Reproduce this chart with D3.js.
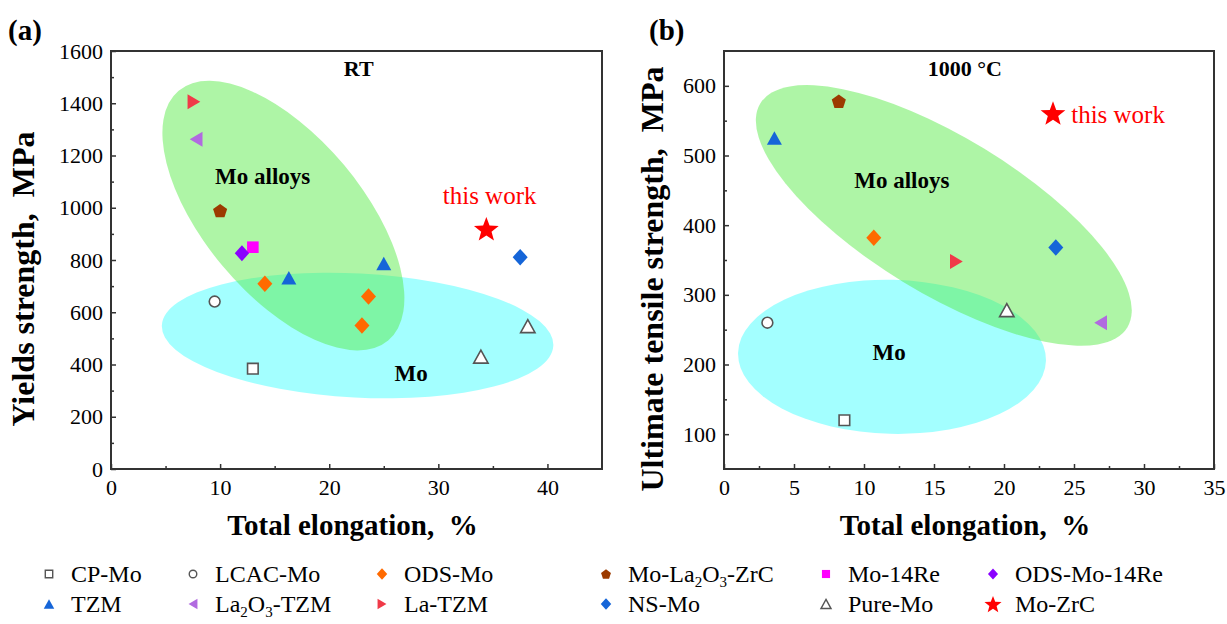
<!DOCTYPE html>
<html>
<head>
<meta charset="utf-8">
<script src="https://cdn.jsdelivr.net/npm/d3@7"></script>
<style>
  body { margin: 0; background: #fff; }
  svg text, svg tspan { font-family: "Liberation Serif", "Times New Roman", serif !important; fill: #000; }
</style>
</head>
<body>
<div id="chart"></div>
<script>
// series (legend order)
const seriesNames = ["CP-Mo", "LCAC-Mo", "ODS-Mo", "Mo-La2O3-ZrC", "Mo-14Re", "ODS-Mo-14Re",
                     "TZM", "La2O3-TZM", "La-TZM", "NS-Mo", "Pure-Mo", "Mo-ZrC"];

// (a) room temperature: yield strength vs total elongation
const rtSeries     = ["CP-Mo", "LCAC-Mo", "ODS-Mo", "ODS-Mo", "ODS-Mo", "Mo-La2O3-ZrC", "Mo-14Re",
                      "ODS-Mo-14Re", "TZM", "TZM", "La2O3-TZM", "La-TZM", "NS-Mo", "Pure-Mo", "Pure-Mo", "Mo-ZrC"];
const rtElongation = [13.0, 9.5, 14.1, 23.6, 23.0, 10.0, 13.0, 12.0, 16.3, 25.0, 7.8, 7.6, 37.5, 33.9, 38.2, 34.4];
const rtYield      = [384, 641, 709, 660, 549, 989, 849, 826, 732, 787, 1262, 1406, 811, 430, 547, 920];

// (b) 1000 °C: ultimate tensile strength vs total elongation
const hotSeries     = ["CP-Mo", "LCAC-Mo", "ODS-Mo", "Mo-La2O3-ZrC", "TZM", "La2O3-TZM", "La-TZM", "NS-Mo", "Pure-Mo", "Mo-ZrC"];
const hotElongation = [8.6, 3.1, 10.7, 8.2, 3.6, 26.9, 16.6, 23.7, 20.2, 23.5];
const hotUTS        = [120, 260, 382, 578, 525, 260, 348, 368, 278, 561];

const rtXTicks = [0, 10, 20, 30, 40];
const rtYTicks = [0, 200, 400, 600, 800, 1000, 1200, 1400, 1600];
const hotXTicks = [0, 5, 10, 15, 20, 25, 30, 35];
const hotYTicks = [100, 200, 300, 400, 500, 600];

// marker styles
const styles = {
  "CP-Mo":        {shape: "square",   r: 5.3, color: "#555", open: true},
  "LCAC-Mo":      {shape: "circle",   r: 5.4, color: "#555", open: true},
  "ODS-Mo":       {shape: "diamond",  r: 7.5, color: "#ff6a00"},
  "Mo-La2O3-ZrC": {shape: "pentagon", r: 7.4, color: "#9c3a00"},
  "Mo-14Re":      {shape: "square",   r: 5.8, color: "#ff00ff"},
  "ODS-Mo-14Re":  {shape: "diamond",  r: 7.2, color: "#8a00ff"},
  "TZM":          {shape: "triUp",    r: 7.5, color: "#1565d8"},
  "La2O3-TZM":    {shape: "triLeft",  r: 7.5, color: "#b16ae0"},
  "La-TZM":       {shape: "triRight", r: 7.5, color: "#f03a48"},
  "NS-Mo":        {shape: "diamond",  r: 7.5, color: "#1565d8"},
  "Pure-Mo":      {shape: "triUp",    r: 7.2, color: "#555", open: true},
  "Mo-ZrC":       {shape: "star",     r: 13,  color: "#ff0000"}
};

const serif = '"Liberation Serif", "Times New Roman", serif';

function shapePath(shape, r) {
  switch (shape) {
    case "square": return `M${-r},${-r}H${r}V${r}H${-r}Z`;
    case "circle": return `M${r},0A${r},${r} 0 1,1 ${-r},0A${r},${r} 0 1,1 ${r},0Z`;
    case "diamond": return `M0,${-r * 1.1}L${r},0L0,${r * 1.1}L${-r},0Z`;
    case "triUp": return `M0,${-r * 0.9}L${r},${r * 0.9}L${-r},${r * 0.9}Z`;
    case "triLeft": return `M${-r * 0.85},0L${r * 0.85},${-r}L${r * 0.85},${r}Z`;
    case "triRight": return `M${r * 0.85},0L${-r * 0.85},${-r}L${-r * 0.85},${r}Z`;
    case "pentagon":
      return "M" + d3.range(5).map(k => {
        const a = (-90 + 72 * k) * Math.PI / 180;
        return [r * Math.cos(a), r * Math.sin(a) + r * 0.1];
      }).join("L") + "Z";
    case "star":
      return "M" + d3.range(10).map(k => {
        const a = (-90 + 36 * k) * Math.PI / 180, rr = k % 2 ? r * 0.42 : r;
        return [rr * Math.cos(a), rr * Math.sin(a) + r * 0.1];
      }).join("L") + "Z";
  }
}

const svg = d3.select("#chart").append("svg")
  .attr("width", 1227).attr("height", 624)
  .style("background", "#fff")
  .style("font-family", serif);

// text with La2O3-style subscripts
function richText(sel, str) {
  let shifted = false;
  str.split(/(?<=[A-Za-z])(\d)/).forEach(part => {
    if (!part) return;
    if (/^\d$/.test(part) && !shifted && sel.text() !== "" ) {}
    const isSub = /^\d$/.test(part) && /[A-Za-z]$/.test(sel.text());
    if (isSub) {
      sel.append("tspan").attr("dy", shifted ? 0 : 5).style("font-size", "15px").text(part);
      shifted = true;
    } else {
      sel.append("tspan").attr("dy", shifted ? -5 : 0).text(part);
      shifted = false;
    }
  });
}

function panel(opt) {
  const x = d3.scaleLinear().domain(opt.xDomain).range([opt.left, opt.right]);
  const y = d3.scaleLinear().domain(opt.yDomain).range([opt.bottom, opt.top]);
  const g = svg.append("g");

  // shaded zones
  opt.zones.forEach(z => {
    g.append("ellipse")
      .attr("cx", 0).attr("cy", 0).attr("rx", z.rx).attr("ry", z.ry)
      .attr("transform", `translate(${x(z.cx)},${y(z.cy)}) rotate(${z.angle})`)
      .attr("fill", z.fill).attr("fill-opacity", z.opacity);
  });

  // axes with inward ticks
  const xAxis = g.append("g").attr("transform", `translate(0,${opt.bottom})`)
    .call(d3.axisBottom(x).tickValues(opt.xTicks).tickFormat(d3.format("d"))
      .tickSizeInner(-5).tickSizeOuter(0).tickPadding(10));
  g.append("g").attr("transform", `translate(0,${opt.bottom})`)
    .call(d3.axisBottom(x).tickValues(opt.xMinor).tickSizeInner(-3).tickSizeOuter(0).tickFormat(""));
  const yAxis = g.append("g").attr("transform", `translate(${opt.left},0)`)
    .call(d3.axisLeft(y).tickValues(opt.yTicks).tickFormat(d3.format("d"))
      .tickSizeInner(-5).tickSizeOuter(0).tickPadding(opt.yPad));
  g.append("g").attr("transform", `translate(${opt.left},0)`)
    .call(d3.axisLeft(y).tickValues(opt.yMinor).tickSizeInner(-3).tickSizeOuter(0).tickFormat(""));
  g.selectAll(".domain").remove();
  g.selectAll(".tick line").attr("stroke", "#333").attr("stroke-width", 1.5);
  g.selectAll("g").attr("font-family", null);
  xAxis.selectAll("text").style("font-size", "22px").style("font-family", serif).attr("dy", "0.71em");
  yAxis.selectAll("text").style("font-size", "22px").style("font-family", serif);

  g.append("rect")
    .attr("x", opt.left).attr("y", opt.top)
    .attr("width", opt.right - opt.left).attr("height", opt.bottom - opt.top)
    .attr("fill", "none").attr("stroke", "#333").attr("stroke-width", 2);

  // points
  g.selectAll(".pt").data(opt.series.map((s, i) => ({s, x: opt.xs[i], y: opt.ys[i]})))
    .enter().append("path")
    .attr("class", "pt")
    .attr("transform", d => `translate(${x(d.x)},${y(d.y)})`)
    .attr("d", d => shapePath(styles[d.s].shape, styles[d.s].r))
    .attr("fill", d => styles[d.s].open ? "#fff" : styles[d.s].color)
    .attr("stroke", d => styles[d.s].open ? styles[d.s].color : "none")
    .attr("stroke-width", 1.6);

  // annotations
  opt.notes.forEach(n => {
    g.append("text")
      .attr("x", x(n.x)).attr("y", y(n.y))
      .attr("text-anchor", n.anchor || "middle")
      .style("font-size", n.size + "px")
      .style("font-weight", n.bold ? "bold" : "normal")
      .style("fill", n.color || "#000")
      .text(n.text);
  });

  // axis titles
  g.append("text")
    .attr("x", (opt.left + opt.right) / 2 - 4).attr("y", 535)
    .attr("text-anchor", "middle")
    .style("font-size", "29px").style("font-weight", "bold")
    .attr("xml:space", "preserve")
    .text("Total elongation,  %");
  g.append("text")
    .attr("transform", `translate(${opt.yTitleX},${opt.yTitleY}) rotate(-90)`)
    .attr("text-anchor", "middle")
    .style("font-size", "32px").style("font-weight", "bold")
    .attr("xml:space", "preserve")
    .text(opt.yTitle);

  g.append("text")
    .attr("x", opt.tagX).attr("y", 40)
    .style("font-size", "29px").style("font-weight", "bold")
    .text(opt.tag);
}

panel({
  left: 111, right: 602, top: 51, bottom: 469,
  xDomain: [0, 45], yDomain: [0, 1600],
  xTicks: rtXTicks, xMinor: [5, 15, 25, 35],
  yTicks: rtYTicks, yMinor: [100, 300, 500, 700, 900, 1100, 1300, 1500], yPad: 8,
  series: rtSeries, xs: rtElongation, ys: rtYield,
  zones: [
    {cx: 22.6, cy: 511, rx: 196, ry: 62, angle: 3, fill: "#00ffff", opacity: 0.36},
    {cx: 15.8, cy: 970, rx: 163, ry: 79, angle: 50, fill: "rgb(85,235,70)", opacity: 0.48}
  ],
  notes: [
    {text: "RT", x: 22.7, y: 1505, size: 22, bold: true},
    {text: "Mo alloys", x: 13.9, y: 1092, size: 23, bold: true},
    {text: "Mo", x: 27.5, y: 337, size: 23, bold: true},
    {text: "this work", x: 34.7, y: 1014, size: 25, color: "#ff0000"}
  ],
  yTitle: "Yields strength,  MPa", yTitleX: 34, yTitleY: 279,
  tag: "(a)", tagX: 8
});

panel({
  left: 724, right: 1214, top: 51, bottom: 469,
  xDomain: [0, 35], yDomain: [50, 650],
  xTicks: hotXTicks, xMinor: [2.5, 7.5, 12.5, 17.5, 22.5, 27.5, 32.5],
  yTicks: hotYTicks, yMinor: [150, 250, 350, 450, 550], yPad: 8,
  series: hotSeries, xs: hotElongation, ys: hotUTS,
  zones: [
    {cx: 12.0, cy: 211, rx: 154, ry: 77, angle: 1.5, fill: "#00ffff", opacity: 0.36},
    {cx: 15.7, cy: 414, rx: 215, ry: 78, angle: 31.4, fill: "rgb(85,235,70)", opacity: 0.48}
  ],
  notes: [
    {text: "1000 °C", x: 17.2, y: 614, size: 22, bold: true},
    {text: "Mo alloys", x: 12.7, y: 453, size: 23, bold: true},
    {text: "Mo", x: 11.8, y: 207, size: 23, bold: true},
    {text: "this work", x: 24.8, y: 547, size: 25, color: "#ff0000", anchor: "start"}
  ],
  yTitle: "Ultimate tensile strength,  MPa", yTitleX: 663, yTitleY: 279,
  tag: "(b)", tagX: 649
});

// legend (2 rows x 6 columns)
const legendCols = [49, 193, 382, 606, 826, 993];
const legendRows = [574, 604];
const legend = svg.append("g");
seriesNames.forEach((name, i) => {
  const st = styles[name];
  const cx = legendCols[i % 6], cy = legendRows[Math.floor(i / 6)];
  const lr = name === "Mo-ZrC" ? 9 : st.r * 0.7;
  legend.append("path")
    .attr("transform", `translate(${cx},${cy})`)
    .attr("d", shapePath(st.shape, lr))
    .attr("fill", st.open ? "#fff" : st.color)
    .attr("stroke", st.open ? st.color : "none")
    .attr("stroke-width", 1.4);
  const t = legend.append("text")
    .attr("x", cx + 22).attr("y", cy + 8)
    .style("font-size", "24px");
  richText(t, name);
});
</script>
</body>
</html>
